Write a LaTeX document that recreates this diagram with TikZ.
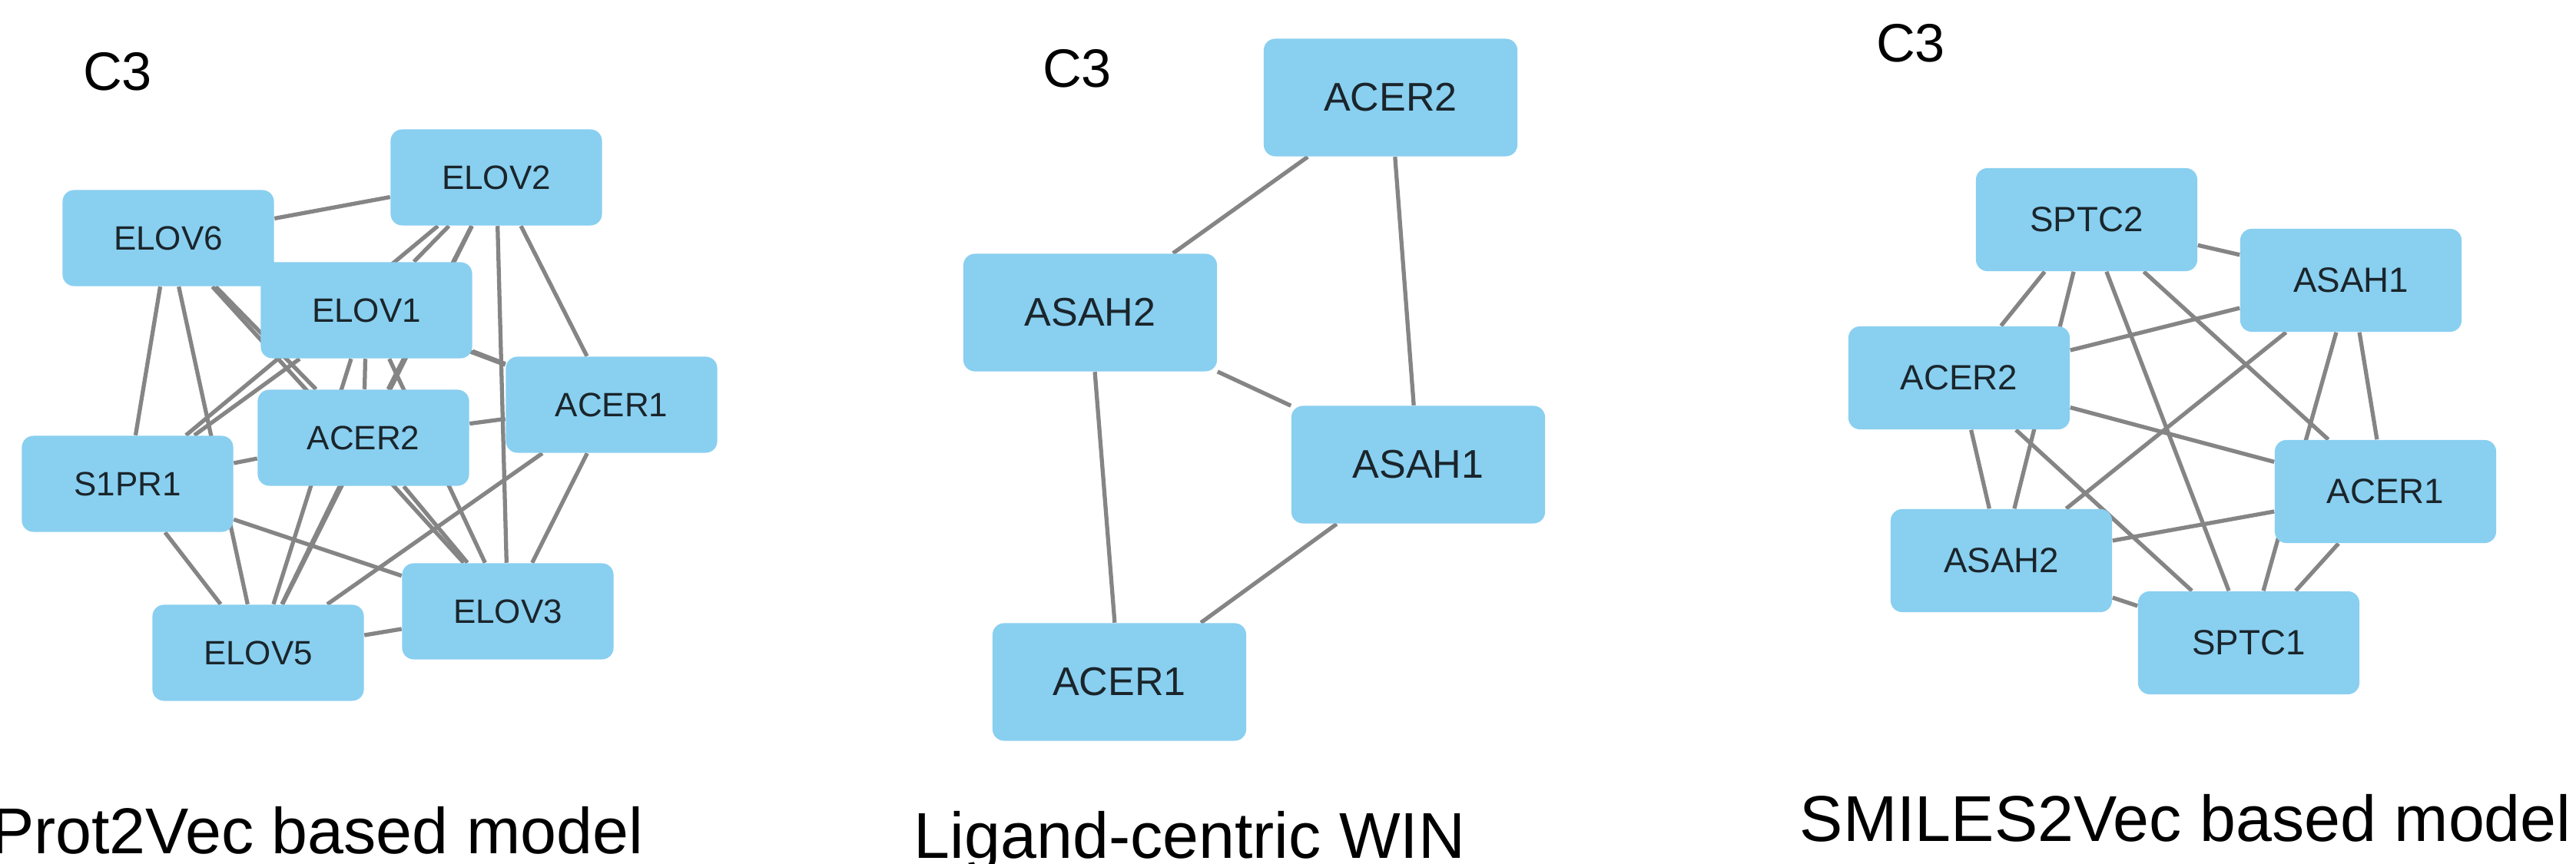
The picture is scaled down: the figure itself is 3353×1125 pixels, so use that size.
\documentclass[tikz,border=0pt]{standalone}
\usepackage{fontspec}
\setmainfont{Liberation Sans}
\usetikzlibrary{backgrounds}
\definecolor{nodeblue}{HTML}{89CFF0}
\definecolor{edgegray}{HTML}{858585}
\definecolor{labeltext}{HTML}{1A252B}
\begin{document}
\begin{tikzpicture}[x=0.01cm,y=-0.01cm,
  gnode/.style={draw=none, fill=nodeblue, rounded corners=0.15cm, inner sep=0pt, text=labeltext},
  pa/.style={gnode, minimum width=2.75cm, minimum height=1.25cm, font=\fontsize{12.5}{15}\selectfont},
  pb/.style={gnode, minimum width=3.3cm, minimum height=1.53cm, font=\fontsize{14.8}{17}\selectfont},
  pc/.style={gnode, minimum width=2.88cm, minimum height=1.34cm, font=\fontsize{13}{16}\selectfont},
  gedge/.style={draw=edgegray, line width=1.5pt},
  clabel/.style={font=\fontsize{20}{24}\selectfont, inner sep=0pt},
  captionlbl/.style={font=\fontsize{24}{28}\selectfont, inner sep=0pt}]
\useasboundingbox (0,0) rectangle (3353,1125);

% ---------- Panel 1: Prot2Vec ----------
\node[clabel] (c3a) at (153,93) {C3};
\node[pa] (p1e2) at (646,231) {ELOV2};
\node[pa] (p1e6) at (219,310) {ELOV6};
\node[pa] (p1e1) at (477,404) {ELOV1};
\node[pa] (p1a1) at (796,527) {ACER1};
\node[pa] (p1a2) at (473,570) {ACER2};
\node[pa] (p1s1) at (166,630) {S1PR1};
\node[pa] (p1e3) at (661,796) {ELOV3};
\node[pa] (p1e5) at (336,850) {ELOV5};
\node[captionlbl, anchor=base east] (cap1) at (838,1111) {Prot2Vec based model};

% ---------- Panel 2: Ligand-centric WIN ----------
\node[clabel] (c3b) at (1402,89) {C3};
\node[pb] (p2a2) at (1810,127) {ACER2};
\node[pb] (p2s2) at (1419,407) {ASAH2};
\node[pb] (p2s1) at (1846,605) {ASAH1};
\node[pb] (p2a1) at (1457,888) {ACER1};
\node[captionlbl, anchor=base west] (cap2) at (1189,1117) {Ligand-centric WIN};

% ---------- Panel 3: SMILES2Vec ----------
\node[clabel] (c3c) at (2487,56) {C3};
\node[pc] (p3t2) at (2716,286) {SPTC2};
\node[pc] (p3s1) at (3060,365) {ASAH1};
\node[pc] (p3a2) at (2550,492) {ACER2};
\node[pc] (p3a1) at (3105,640) {ACER1};
\node[pc] (p3s2) at (2605,730) {ASAH2};
\node[pc] (p3t1) at (2927,837) {SPTC1};
\node[captionlbl, anchor=base west] (cap3) at (2342,1096) {SMILES2Vec based model};

\begin{scope}[on background layer]
  \fill[white] (0,0) rectangle (3353,1125);
  % panel 1 edges (all pairs except S1PR1--ACER1)
  \foreach \u/\v in {e2/e6,e2/e1,e2/a1,e2/a2,e2/s1,e2/e3,e2/e5,
                     e6/e1,e6/a1,e6/a2,e6/s1,e6/e3,e6/e5,
                     e1/a1,e1/a2,e1/s1,e1/e3,e1/e5,
                     a1/a2,a1/e3,a1/e5,
                     a2/s1,a2/e3,a2/e5,
                     s1/e3,s1/e5,
                     e3/e5}
    \draw[gedge] (p1\u) -- (p1\v);
  % panel 2 edges
  \foreach \u/\v in {a2/s2,a2/s1,s2/s1,s2/a1,s1/a1}
    \draw[gedge] (p2\u) -- (p2\v);
  % panel 3 edges (complete graph)
  \foreach \u/\v in {t2/s1,t2/a2,t2/s2,t2/t1,t2/a1,
                     s1/a2,s1/s2,s1/t1,s1/a1,
                     a2/a1,a2/s2,a2/t1,
                     s2/a1,s2/t1,
                     a1/t1}
    \draw[gedge] (p3\u) -- (p3\v);
\end{scope}
\end{tikzpicture}
\end{document}
